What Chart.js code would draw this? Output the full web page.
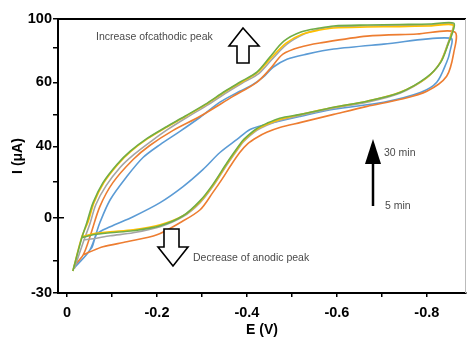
<!DOCTYPE html>
<html lang="en">
<head>
<meta charset="UTF-8">
<title>Cyclic voltammograms</title>
<script src="https://cdn.jsdelivr.net/npm/chart.js@4.4.1/dist/chart.umd.min.js"></script>
<style>
    html, body { margin: 0; padding: 0; background: #fff; }
    #wrap { width: 468px; height: 338px; }
</style>
</head>
<body>
<div id="wrap"><canvas id="cv"></canvas></div>
<script>
    // potential E (V) and current I (uA), 5 min -> 30 min
    const scan1E = [-0.016,-0.051,-0.073,-0.096,-0.133,-0.169,-0.207,-0.251,-0.296,-0.340,-0.384,-0.411,-0.436,-0.458,-0.489,-0.533,-0.593,-0.704,-0.853,
                    -0.851,-0.844,-0.822,-0.787,-0.704,-0.593,-0.520,-0.444,-0.407,-0.378,-0.340,-0.302,-0.258,-0.207,-0.147,-0.096,-0.067,-0.056,-0.051];
    const scan1I = [-20.0,-12.8,-2.0,10.1,23.1,33.8,40.6,44.7,49.1,53.8,57.2,59.1,63.2,69.5,74.6,77.8,81.0,84.1,87.9,
                    79.0,72.7,60.0,56.9,53.8,51.6,49.4,46.9,45.3,42.2,36.6,27.0,17.5,8.5,0.6,-3.6,-6.4,-11.6,-12.8];

    const scan2E = [-0.016,-0.036,-0.051,-0.073,-0.102,-0.147,-0.184,-0.236,-0.296,-0.369,-0.422,-0.451,-0.480,-0.518,-0.562,-0.667,-0.778,-0.862,
                    -0.860,-0.844,-0.800,-0.742,-0.667,-0.593,-0.520,-0.473,-0.444,-0.422,-0.402,-0.384,-0.364,-0.344,-0.324,-0.296,-0.251,-0.200,-0.133,-0.080,-0.051,-0.036];
    const scan2I = [-19.2,-14.8,-7.6,6.2,19.7,32.7,40.3,45.0,49.4,55.6,60.0,68.3,77.8,82.2,84.8,89.2,90.5,91.8,
                    79.0,63.8,57.2,54.7,52.5,50.0,47.5,45.9,44.4,42.8,40.9,36.6,29.3,21.4,14.1,4.5,-2.0,-6.8,-9.6,-11.6,-13.6,-14.8];

    const scan3E = [-0.016,-0.038,-0.051,-0.064,-0.087,-0.118,-0.149,-0.187,-0.224,-0.267,-0.311,-0.356,-0.389,-0.427,-0.456,-0.489,-0.527,-0.562,-0.593,-0.667,-0.740,-0.807,-0.858,
                    -0.853,-0.847,-0.829,-0.798,-0.740,-0.667,-0.593,-0.520,-0.473,-0.444,-0.422,-0.393,-0.384,-0.356,-0.324,-0.296,-0.258,-0.207,-0.147,-0.096,-0.058,-0.038];
    const scan3I = [-20.4,-8.8,-2.4,7.3,18.0,28.2,35.5,41.6,45.3,49.1,52.8,56.9,59.7,65.7,74.6,84.1,90.5,93.7,94.9,95.6,95.9,96.2,96.8,
                    89.8,84.8,72.1,62.5,56.6,53.8,51.9,49.7,48.1,46.6,45.0,41.6,40.0,29.9,17.5,8.5,0.6,-3.6,-6.0,-7.2,-8.4,-8.8];

    const scan4E = [-0.013,-0.033,-0.047,-0.060,-0.082,-0.113,-0.142,-0.180,-0.220,-0.264,-0.309,-0.353,-0.387,-0.424,-0.453,-0.487,-0.524,-0.562,-0.593,-0.667,-0.740,-0.807,-0.858,
                    -0.853,-0.847,-0.829,-0.798,-0.740,-0.667,-0.593,-0.520,-0.473,-0.444,-0.422,-0.393,-0.384,-0.356,-0.324,-0.296,-0.258,-0.207,-0.147,-0.096,-0.058,-0.033];
    const scan4I = [-21.2,-7.6,-1.6,8.5,19.7,29.9,37.2,42.5,45.9,49.4,53.1,57.2,60.0,66.4,75.2,84.8,90.5,93.0,94.3,94.9,95.2,95.6,96.2,
                    89.2,84.1,72.1,62.5,56.9,54.1,52.2,50.0,48.4,46.9,45.3,41.9,40.3,30.4,18.0,9.0,1.1,-2.8,-4.8,-5.6,-6.4,-7.6];

    const scan5E = [-0.013,-0.033,-0.044,-0.058,-0.080,-0.111,-0.140,-0.178,-0.218,-0.262,-0.307,-0.351,-0.384,-0.422,-0.451,-0.482,-0.520,-0.562,-0.593,-0.667,-0.740,-0.807,-0.860,
                    -0.856,-0.849,-0.831,-0.800,-0.742,-0.667,-0.593,-0.520,-0.473,-0.444,-0.422,-0.393,-0.384,-0.356,-0.324,-0.296,-0.258,-0.207,-0.147,-0.096,-0.058,-0.033];
    const scan5I = [-21.2,-8.0,-2.0,8.5,19.7,29.9,37.2,42.5,45.9,49.4,53.1,57.2,60.0,66.4,75.9,86.0,91.8,94.3,95.6,96.2,96.5,96.8,97.4,
                    90.5,85.4,72.7,63.2,56.9,54.1,52.2,50.0,48.8,47.2,45.6,42.2,40.6,31.0,18.6,9.6,1.1,-3.2,-5.2,-6.0,-6.8,-8.0];

    const scanColors = ['#5b9bd5', '#ed7d31', '#a5a5a5', '#ffc000', '#70ad47'];

    // axis ticks as printed in the figure
    const xTickValues = [0, -0.1, -0.2, -0.3, -0.4, -0.5, -0.6, -0.7, -0.8];
    const xTickLabels = ['0', '', '-0.2', '', '-0.4', '', '-0.6', '', '-0.8'];
    const yTickValues = [-30, -17, 0, 20, 40, 50, 60, 82, 100];
    const yTickLabels = ['-30', '', '0', '', '40', '', '60', '', '100'];

    // the printed current axis is not evenly spaced: value -> fraction of axis height
    const yKnots = [[-30, 0], [0, 0.2747], [40, 0.5348], [60, 0.769], [100, 1]];

    class WarpScale extends Chart.LinearScale {
        toDec(v) {
            if (v <= yKnots[0][0]) return yKnots[0][1];
            for (let i = 1; i < yKnots.length; i++) {
                if (v <= yKnots[i][0]) {
                    const t = (v - yKnots[i - 1][0]) / (yKnots[i][0] - yKnots[i - 1][0]);
                    return yKnots[i - 1][1] + t * (yKnots[i][1] - yKnots[i - 1][1]);
                }
            }
            return 1;
        }
        getPixelForValue(v) {
            return this.getPixelForDecimal(this.toDec(v));
        }
        getValueForPixel(p) {
            const d = this.getDecimalForPixel(p);
            for (let i = 1; i < yKnots.length; i++) {
                if (d <= yKnots[i][1]) {
                    const t = (d - yKnots[i - 1][1]) / (yKnots[i][1] - yKnots[i - 1][1]);
                    return yKnots[i - 1][0] + t * (yKnots[i][0] - yKnots[i - 1][0]);
                }
            }
            return yKnots[yKnots.length - 1][0];
        }
    }
    WarpScale.id = 'warp';
    WarpScale.defaults = Chart.LinearScale.defaults;
    Chart.register(WarpScale);

    function pts(es, is) {
        return es.map((e, i) => ({ x: e, y: is[i] }));
    }

    const scans = [
        pts(scan1E, scan1I), pts(scan2E, scan2I), pts(scan3E, scan3I),
        pts(scan4E, scan4I), pts(scan5E, scan5I)
    ];

    const datasets = scans.map((d, i) => ({
        label: 'scan ' + (i + 1),
        data: d,
        showLine: true,
        borderColor: scanColors[i],
        borderWidth: 1.6,
        pointRadius: 0,
        tension: 0.3,
        fill: false,
        order: 5 - i
    }));

    function arrowOutline(ctx, p) {
        ctx.beginPath();
        ctx.moveTo(p[0][0], p[0][1]);
        for (let i = 1; i < p.length; i++) ctx.lineTo(p[i][0], p[i][1]);
        ctx.closePath();
        ctx.fillStyle = '#fff';
        ctx.fill();
        ctx.lineWidth = 1.6;
        ctx.strokeStyle = '#000';
        ctx.stroke();
    }

    const notes = {
        id: 'notes',
        afterDraw(chart) {
            const ctx = chart.ctx;
            const a = chart.chartArea;
            ctx.save();
            // frame top and right
            ctx.strokeStyle = '#000';
            ctx.lineWidth = 2;
            ctx.beginPath();
            ctx.moveTo(a.left, a.top);
            ctx.lineTo(a.right, a.top);
            ctx.stroke();
            ctx.strokeStyle = '#bbb';
            ctx.lineWidth = 1;
            ctx.beginPath();
            ctx.moveTo(a.right - 0.5, a.top);
            ctx.lineTo(a.right - 0.5, a.bottom);
            ctx.stroke();

            // the zero tick runs through the axis
            const y0 = chart.scales.y.getPixelForValue(0);
            ctx.strokeStyle = '#000';
            ctx.lineWidth = 1.5;
            ctx.beginPath();
            ctx.moveTo(a.left, y0);
            ctx.lineTo(a.left + 6, y0);
            ctx.stroke();

            // hollow arrows
            arrowOutline(ctx, [[243, 28], [259, 46], [249, 46], [249, 63], [237, 63], [237, 46], [229, 46]]);
            arrowOutline(ctx, [[164, 229], [179, 229], [179, 247], [188, 247], [173, 266], [158, 247], [164, 247]]);

            // black time arrow
            ctx.strokeStyle = '#000';
            ctx.lineWidth = 2.5;
            ctx.beginPath();
            ctx.moveTo(373, 206);
            ctx.lineTo(373, 160);
            ctx.stroke();
            ctx.fillStyle = '#000';
            ctx.beginPath();
            ctx.moveTo(373, 139);
            ctx.lineTo(381, 164);
            ctx.lineTo(365, 164);
            ctx.closePath();
            ctx.fill();

            ctx.font = '10.5px "Liberation Sans", Arial, sans-serif';
            ctx.fillStyle = '#4a4a4a';
            ctx.textBaseline = 'middle';
            ctx.textAlign = 'left';
            ctx.fillText('Increase ofcathodic peak', 96, 37);
            ctx.fillText('Decrease of anodic peak', 193, 258);
            ctx.fillText('30 min', 384, 153);
            ctx.fillText('5 min', 385, 206);
            ctx.restore();
        }
    };

    const tickFont = { family: '"Liberation Sans", Arial, sans-serif', size: 14.5, weight: 'bold' };

    new Chart(document.getElementById('cv'), {
        type: 'scatter',
        data: { datasets: datasets },
        options: {
            responsive: true,
            maintainAspectRatio: false,
            animation: false,
            layout: { padding: { top: 19, right: 2, left: 0, bottom: 0 } },
            plugins: {
                legend: { display: false },
                tooltip: { enabled: false }
            },
            scales: {
                x: {
                    type: 'linear',
                    reverse: true,
                    min: -0.887,
                    max: 0.02,
                    afterBuildTicks: s => { s.ticks = xTickValues.map(v => ({ value: v })); },
                    afterFit: s => { s.height = 45; },
                    ticks: {
                        autoSkip: false,
                        maxRotation: 0,
                        padding: 7,
                        color: '#000',
                        font: tickFont,
                        callback: (v, i) => xTickLabels[i]
                    },
                    grid: { drawOnChartArea: false, color: '#000', lineWidth: 1.5, tickLength: 4 },
                    border: { color: '#000', width: 2 },
                    title: {
                        display: true,
                        text: 'E (V)',
                        color: '#000',
                        font: { family: '"Liberation Sans", Arial, sans-serif', size: 14, weight: 'bold' },
                        padding: { top: 0, bottom: -1 }
                    }
                },
                y: {
                    type: 'warp',
                    min: -30,
                    max: 100,
                    afterBuildTicks: s => { s.ticks = yTickValues.map(v => ({ value: v })); },
                    afterFit: s => { s.width = 58; },
                    ticks: {
                        autoSkip: false,
                        padding: 1,
                        color: '#000',
                        font: tickFont,
                        callback: (v, i) => yTickLabels[i]
                    },
                    grid: { drawOnChartArea: false, color: '#000', lineWidth: 1.5, tickLength: 5 },
                    border: { color: '#000', width: 2 },
                    title: {
                        display: true,
                        text: 'I (μA)',
                        color: '#000',
                        font: { family: '"Liberation Sans", Arial, sans-serif', size: 14, weight: 'bold' },
                        padding: { top: 10, bottom: 0 }
                    }
                }
            }
        },
        plugins: [notes]
    });
</script>
</body>
</html>
